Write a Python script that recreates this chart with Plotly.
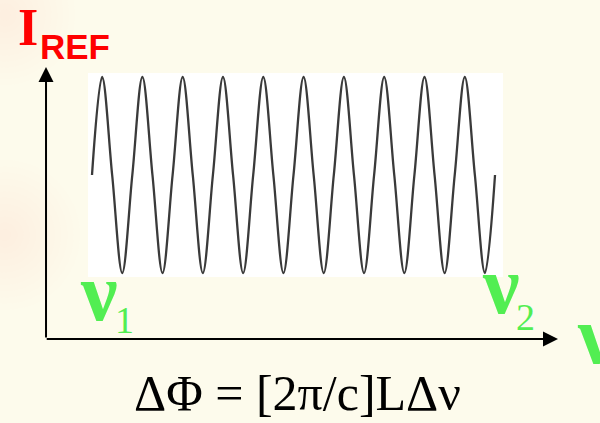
import plotly.graph_objects as go

# Sine-like reference intensity, read as nodes (zero crossings, peaks, troughs)
# x in periods across the band nu1..nu2, y normalised intensity
node_x = [0.00, 0.25, 0.50, 0.75, 1.00, 1.25, 1.50, 1.75, 2.00, 2.25, 2.50, 2.75,
          3.00, 3.25, 3.50, 3.75, 4.00, 4.25, 4.50, 4.75, 5.00, 5.25, 5.50, 5.75,
          6.00, 6.25, 6.50, 6.75, 7.00, 7.25, 7.50, 7.75, 8.00, 8.25, 8.50, 8.75,
          9.00, 9.25, 9.50, 9.75, 10.00]
node_y = [0, 1, 0, -1, 0, 1, 0, -1, 0, 1, 0, -1,
          0, 1, 0, -1, 0, 1, 0, -1, 0, 1, 0, -1,
          0, 1, 0, -1, 0, 1, 0, -1, 0, 1, 0, -1,
          0, 1, 0, -1, 0]

# axis geometry in data units
x_range = [-2.283, 12.605]
y_range = [-2.531, 1.786]
axis_origin = (-1.141, -1.673)
x_axis_end = 11.563
y_axis_end = 1.102

W, H = 600, 423

def px(x):
    return x / W

def py(y):
    return 1 - y / H

fig = go.Figure()

fig.add_trace(go.Scatter(
    x=node_x, y=node_y, mode="lines",
    line=dict(color="#3a3a3a", width=2.3, shape="spline", smoothing=1.0),
    hoverinfo="skip", showlegend=False,
))

shapes = []
# soft pinkish tint of the slide background (stacked faint discs = soft gradient)
for (cx, cy, rmax) in [(5, 15, 70), (5, 235, 75)]:
    for k in range(12):
        r = rmax * (1 - k / 12)
        shapes.append(dict(type="circle", xref="paper", yref="paper",
                           x0=px(cx - r), x1=px(cx + r), y0=py(cy + r), y1=py(cy - r),
                           fillcolor="#e8a098", opacity=0.012, line=dict(width=0),
                           layer="below"))
# white picture area behind the curve
shapes.append(dict(type="rect", xref="paper", yref="paper",
                   x0=px(88), x1=px(503), y0=py(277), y1=py(73),
                   fillcolor="white", line=dict(width=0), layer="below"))

annotations = []
# axes as arrows
annotations.append(dict(x=axis_origin[0], y=y_axis_end, ax=axis_origin[0], ay=axis_origin[1],
                        xref="x", yref="y", axref="x", ayref="y", text="",
                        showarrow=True, arrowhead=2, arrowsize=1.5, arrowwidth=2,
                        arrowcolor="black", standoff=0, startstandoff=0))
annotations.append(dict(x=x_axis_end, y=axis_origin[1], ax=axis_origin[0] - 0.02, ay=axis_origin[1],
                        xref="x", yref="y", axref="x", ayref="y", text="",
                        showarrow=True, arrowhead=2, arrowsize=1.5, arrowwidth=2,
                        arrowcolor="black", standoff=0, startstandoff=0))

GREEN = "#52EE52"
SERIF = "Liberation Serif"

def label(text, x, y, size, color, family=SERIF, anchor="left"):
    annotations.append(dict(text=text, x=px(x), y=py(y), xref="paper", yref="paper",
                            xanchor=anchor, yanchor="middle", showarrow=False,
                            font=dict(size=size, color=color, family=family)))

label("<b>I</b>", 16, 27.5, 52, "#FF0000")
label("<b>REF</b>", 38, 46, 35, "#FF0000", family="Liberation Sans")
label("<b>ν</b>", 78, 292, 82, GREEN)
label("1", 113, 320, 38, GREEN)
label("<b>ν</b>", 480, 285, 82, GREEN)
label("2", 514, 317, 38, GREEN)
label("<b>ν</b>", 575, 335, 82, GREEN)
label("ΔΦ = [2π/c]LΔν", 297.5, 393, 50, "black", anchor="center")

fig.update_layout(
    width=W, height=H,
    margin=dict(l=0, r=0, t=0, b=0),
    paper_bgcolor="#FDFBEC",
    plot_bgcolor="rgba(0,0,0,0)",
    xaxis=dict(range=x_range, visible=False, fixedrange=True),
    yaxis=dict(range=y_range, visible=False, fixedrange=True),
    shapes=shapes,
    annotations=annotations,
    showlegend=False,
)

fig.write_html("out.html")
